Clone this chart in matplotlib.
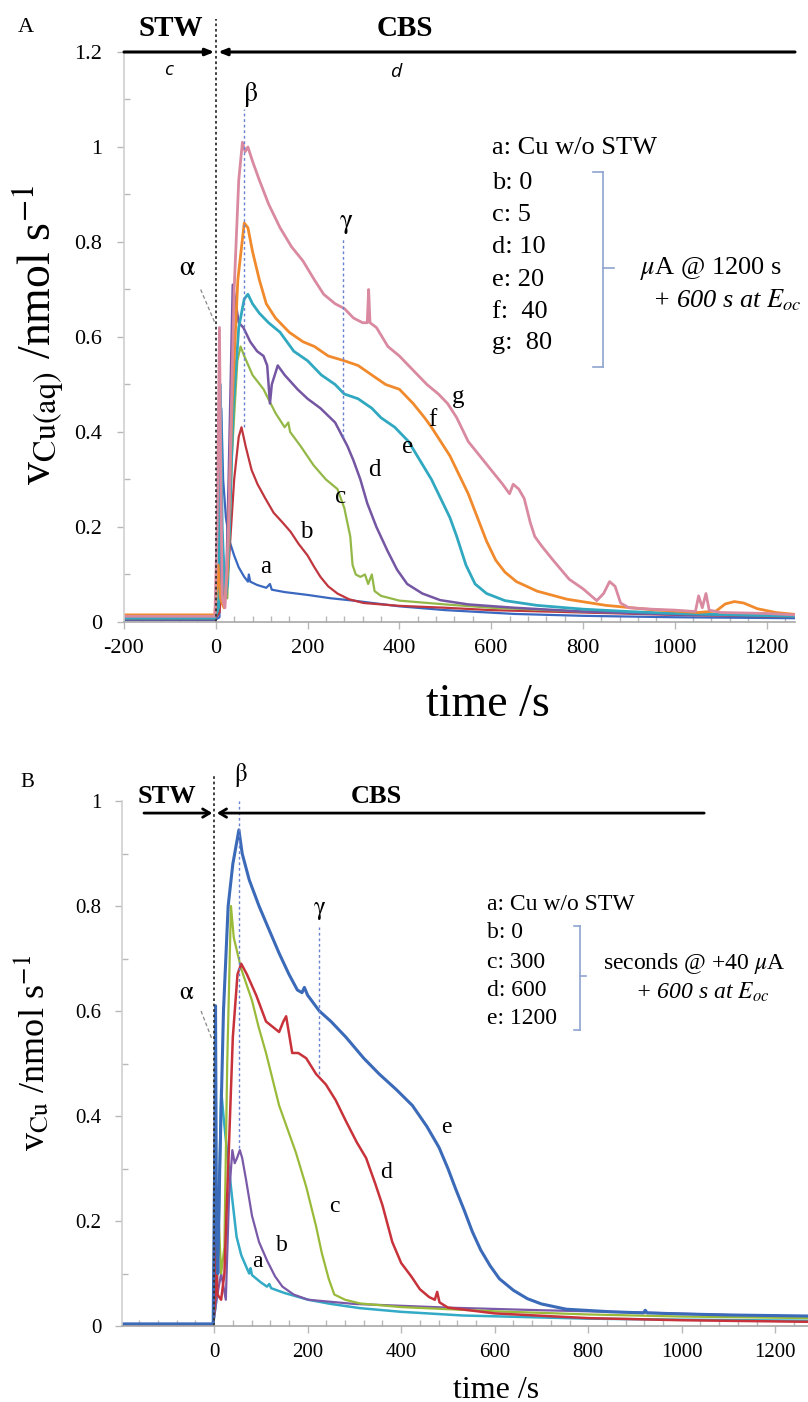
import matplotlib
matplotlib.use("Agg")
import matplotlib.pyplot as plt
import numpy as np

plt.rcParams['font.family'] = ['Liberation Serif', 'DejaVu Serif']
plt.rcParams['mathtext.fontset'] = 'stix'
plt.rcParams['axes.unicode_minus'] = False

W, H = 808, 1402

# ---------------- Panel A data (time /s, nmol s-1) ----------------
A_labels = ["a", "b", "c", "d", "e", "f", "g"]
A_colors = ["#3a68c0", "#c0363e", "#94b847", "#7456a3", "#30a8c0", "#f08a2c", "#d98aa0"]

A_a_t = [-200, -2, 8, 12, 16, 22, 30, 40, 50, 62, 70, 72, 75, 90, 110, 118, 122, 150, 200, 250, 300, 400, 500, 650, 800, 1000, 1262]
A_a_v = [0.004, 0.004, 0.01, 0.45, 0.3, 0.22, 0.17, 0.14, 0.115, 0.095, 0.085, 0.1, 0.085, 0.078, 0.072, 0.08, 0.068, 0.063, 0.057, 0.05, 0.045, 0.033, 0.025, 0.017, 0.013, 0.01, 0.008]

A_b_t = [-200, -2, 8, 14, 20, 28, 40, 50, 56, 65, 78, 91, 108, 126, 145, 163, 180, 200, 215, 228, 245, 265, 290, 322, 400, 500, 600, 800, 1000, 1262]
A_b_v = [0.006, 0.006, 0.02, 0.08, 0.05, 0.12, 0.3, 0.39, 0.41, 0.37, 0.32, 0.29, 0.26, 0.23, 0.21, 0.19, 0.165, 0.14, 0.115, 0.095, 0.075, 0.06, 0.048, 0.04, 0.034, 0.03, 0.025, 0.02, 0.015, 0.011]

A_c_t = [-200, -2, 10, 18, 25, 35, 47, 54, 62, 80, 104, 130, 150, 158, 162, 185, 213, 240, 265, 280, 293, 298, 305, 315, 325, 332, 340, 346, 360, 400, 500, 600, 800, 1000, 1262]
A_c_v = [0.008, 0.008, 0.05, 0.1, 0.05, 0.35, 0.55, 0.58, 0.56, 0.52, 0.49, 0.44, 0.41, 0.42, 0.4, 0.37, 0.33, 0.3, 0.28, 0.24, 0.18, 0.12, 0.1, 0.095, 0.1, 0.08, 0.1, 0.065, 0.055, 0.045, 0.037, 0.03, 0.022, 0.017, 0.013]

A_d_t = [-200, -2, 8, 15, 22, 28, 37, 42, 50, 60, 75, 90, 104, 112, 118, 122, 135, 150, 178, 200, 228, 260, 287, 300, 315, 330, 350, 374, 395, 417, 450, 489, 550, 650, 800, 1000, 1262]
A_d_v = [0.008, 0.008, 0.05, 0.15, 0.05, 0.3, 0.71, 0.68, 0.63, 0.62, 0.59, 0.57, 0.56, 0.54, 0.46, 0.5, 0.54, 0.52, 0.49, 0.47, 0.45, 0.42, 0.37, 0.34, 0.3, 0.25, 0.2, 0.15, 0.11, 0.08, 0.06, 0.046, 0.037, 0.03, 0.022, 0.016, 0.012]

A_e_t = [-200, -2, 6, 10, 14, 20, 26, 38, 50, 62, 70, 80, 95, 115, 140, 170, 200, 230, 260, 280, 310, 340, 360, 390, 420, 445, 470, 490, 510, 525, 545, 565, 590, 630, 700, 800, 900, 1000, 1262]
A_e_v = [0.008, 0.008, 0.03, 0.5, 0.2, 0.05, 0.08, 0.45, 0.62, 0.68, 0.69, 0.67, 0.65, 0.63, 0.61, 0.57, 0.55, 0.52, 0.5, 0.48, 0.47, 0.45, 0.43, 0.41, 0.38, 0.34, 0.3, 0.26, 0.22, 0.18, 0.12, 0.08, 0.06, 0.045, 0.035, 0.027, 0.022, 0.018, 0.012]

A_f_t = [-200, -2, 5, 10, 18, 25, 35, 48, 62, 70, 80, 95, 110, 130, 160, 190, 215, 245, 280, 310, 340, 370, 400, 430, 455, 470, 490, 510, 530, 550, 570, 590, 610, 630, 655, 700, 765, 850, 950, 1050, 1090, 1110, 1130, 1150, 1180, 1220, 1262]
A_f_v = [0.015, 0.015, 0.12, 0.05, 0.03, 0.1, 0.45, 0.72, 0.84, 0.83, 0.78, 0.72, 0.67, 0.64, 0.61, 0.59, 0.58, 0.56, 0.55, 0.54, 0.52, 0.5, 0.49, 0.46, 0.43, 0.41, 0.38, 0.35, 0.31, 0.27, 0.22, 0.17, 0.13, 0.105, 0.085, 0.065, 0.048, 0.035, 0.026, 0.02, 0.023, 0.038, 0.043, 0.04, 0.028, 0.02, 0.016]

A_g_t = [-200, -2, 3, 8, 11, 14, 20, 28, 40, 50, 58, 64, 70, 80, 95, 115, 140, 165, 190, 215, 235, 260, 280, 300, 320, 330, 333, 336, 350, 375, 400, 430, 460, 485, 505, 525, 550, 575, 600, 625, 640, 648, 660, 672, 685, 695, 710, 735, 770, 800, 830, 845, 858, 870, 882, 900, 950, 1000, 1045, 1052, 1060, 1068, 1075, 1100, 1200, 1262]
A_g_v = [0.012, 0.012, 0.2, 0.62, 0.3, 0.05, 0.03, 0.2, 0.7, 0.93, 1.01, 0.99, 1.0, 0.97, 0.93, 0.88, 0.83, 0.79, 0.76, 0.72, 0.69, 0.67, 0.66, 0.64, 0.63, 0.63, 0.7, 0.63, 0.62, 0.58, 0.56, 0.53, 0.5, 0.48, 0.46, 0.43, 0.38, 0.35, 0.32, 0.29, 0.27, 0.29, 0.28, 0.26, 0.21, 0.18, 0.16, 0.13, 0.09, 0.07, 0.045, 0.06, 0.085, 0.075, 0.04, 0.03, 0.027, 0.025, 0.022, 0.055, 0.03, 0.06, 0.025, 0.02, 0.018, 0.015]

A_series = [(A_a_t, A_a_v), (A_b_t, A_b_v), (A_c_t, A_c_v), (A_d_t, A_d_v),
            (A_e_t, A_e_v), (A_f_t, A_f_v), (A_g_t, A_g_v)]
A_widths = [1.6, 1.6, 1.6, 1.8, 2.0, 2.0, 2.0]
A_lab_t = [108, 197, 271, 345, 417, 471, 527]
A_lab_v = [0.116, 0.19, 0.263, 0.32, 0.368, 0.425, 0.474]
A_legend = ["a: Cu w/o STW", "b: 0", "c: 5", "d: 10", "e: 20", "f:  40", "g:  80"]
A_xticklabels = ["-200", "0", "200", "400", "600", "800", "1000", "1200"]
A_yticklabels = ["0", "0.2", "0.4", "0.6", "0.8", "1", "1.2"]

# ---------------- Panel B data ----------------
B_labels = ["a", "b", "c", "d", "e"]
B_colors = ["#33aac6", "#7a5aa8", "#9aba3a", "#c8323a", "#3a6ab8"]

B_a_t = [-200, -2, 5, 10, 15, 20, 28, 39, 48, 58, 70, 75, 78, 81, 100, 113, 118, 122, 150, 201, 250, 312, 400, 532, 800, 1000, 1270]
B_a_v = [0.003, 0.003, 0.05, 0.2, 0.45, 0.4, 0.33, 0.24, 0.17, 0.135, 0.11, 0.1, 0.11, 0.097, 0.083, 0.075, 0.08, 0.072, 0.063, 0.05, 0.042, 0.034, 0.027, 0.02, 0.014, 0.012, 0.01]

B_b_t = [-200, -2, 5, 15, 25, 32, 39, 44, 49, 55, 60, 68, 81, 96, 113, 130, 146, 170, 201, 300, 500, 700, 900, 1100, 1270]
B_b_v = [0.003, 0.003, 0.05, 0.1, 0.05, 0.25, 0.335, 0.31, 0.32, 0.335, 0.32, 0.28, 0.21, 0.16, 0.125, 0.095, 0.075, 0.06, 0.05, 0.042, 0.035, 0.03, 0.026, 0.021, 0.018]

B_c_t = [-200, -2, 5, 10, 15, 22, 28, 36, 42, 58, 81, 95, 111, 125, 139, 155, 175, 197, 218, 230, 245, 257, 280, 312, 400, 600, 800, 1000, 1270]
B_c_v = [0.003, 0.003, 0.1, 0.2, 0.1, 0.15, 0.5, 0.8, 0.74, 0.68, 0.62, 0.57, 0.52, 0.47, 0.42, 0.38, 0.33, 0.265, 0.19, 0.14, 0.09, 0.06, 0.05, 0.043, 0.036, 0.028, 0.022, 0.018, 0.015]

B_d_t = [-200, -2, 2, 4, 7, 15, 22, 30, 40, 50, 58, 70, 90, 111, 139, 148, 154, 167, 180, 197, 218, 239, 260, 282, 305, 325, 345, 360, 381, 400, 422, 440, 460, 472, 477, 482, 500, 600, 800, 1000, 1270]
B_d_v = [0.003, 0.003, 0.05, 0.17, 0.06, 0.05, 0.1, 0.3, 0.55, 0.67, 0.69, 0.67, 0.63, 0.58, 0.56, 0.58, 0.59, 0.52, 0.52, 0.51, 0.48, 0.46, 0.43, 0.39, 0.35, 0.32, 0.27, 0.23, 0.16, 0.12, 0.094, 0.07, 0.055, 0.05, 0.065, 0.045, 0.035, 0.024, 0.015, 0.011, 0.008]

B_e_t = [-200, -2, 1, 3, 5, 8, 12, 20, 30, 40, 53, 60, 75, 96, 115, 139, 160, 178, 188, 193, 200, 225, 250, 282, 320, 353, 390, 424, 455, 481, 500, 517, 535, 552, 570, 590, 610, 640, 670, 700, 753, 850, 918, 922, 926, 1000, 1100, 1270]
B_e_v = [0.004, 0.004, 0.3, 0.61, 0.2, 0.1, 0.3, 0.6, 0.8, 0.88, 0.945, 0.9, 0.85, 0.8, 0.76, 0.71, 0.67, 0.64, 0.635, 0.645, 0.63, 0.6, 0.58, 0.55, 0.51, 0.48, 0.45, 0.42, 0.38, 0.34, 0.3, 0.26, 0.22, 0.18, 0.145, 0.115, 0.09, 0.068, 0.052, 0.042, 0.032, 0.027, 0.025, 0.03, 0.025, 0.023, 0.021, 0.019]

B_series = [(B_a_t, B_a_v), (B_b_t, B_b_v), (B_c_t, B_c_v), (B_d_t, B_d_v), (B_e_t, B_e_v)]
B_widths = [1.8, 1.6, 1.6, 1.8, 2.2]
B_lab_t = [92, 145, 257, 368, 496]
B_lab_v = [0.122, 0.154, 0.227, 0.293, 0.379]
B_legend = ["a: Cu w/o STW", "b: 0", "c: 300", "d: 600", "e: 1200"]
B_xticklabels = ["0", "200", "400", "600", "800", "1000", "1200"]
B_yticklabels = ["0", "0.2", "0.4", "0.6", "0.8", "1"]

# event markers (time, top value, bottom value)
A_beta = (61, 1.08, 0.41)
A_gamma = (278, 0.81, 0.39)
B_beta = (53, 1.0, 0.34)
B_gamma = (225, 0.76, 0.48)


def fx(px):
    return px / W


def fy(py):
    return 1 - py / H


fig = plt.figure(figsize=(W / 100, H / 100), dpi=100)

axA = fig.add_axes([fx(124), fy(622), fx(795) - fx(124), fy(52) - fy(622)])
axB = fig.add_axes([fx(122), fy(1326), 1 - fx(122), fy(801) - fy(1326)])

spine_col = "#b8b8b8"
for ax in (axA, axB):
    for s in ("top", "right"):
        ax.spines[s].set_visible(False)
    ax.spines["left"].set_color("#d0d0d0")
    ax.spines["bottom"].set_color("#a8a8a8")
    ax.spines["left"].set_linewidth(1.2)
    ax.spines["bottom"].set_linewidth(1.2)
    ax.tick_params(which="major", direction="out", length=5, color=spine_col, width=1)
    ax.tick_params(which="minor", direction="in", length=4, color=spine_col, width=1)

# ---- Panel A ----
for (t, v), c, lw in zip(A_series, A_colors, A_widths):
    axA.plot(t, v, color=c, lw=lw, solid_joinstyle="round")
axA.set_xlim(-200, 1262)
axA.set_ylim(0, 1.2)
axA.set_xticks(np.arange(-200, 1201, 200))
axA.set_xticklabels(A_xticklabels)
axA.set_xticks(np.arange(-200, 1262, 40), minor=True)
axA.set_yticks(np.arange(0, 1.21, 0.2))
axA.set_yticks(np.arange(0.1, 1.2, 0.2), minor=True)
axA.set_yticklabels(A_yticklabels)
axA.tick_params(axis="y", which="major", labelsize=16, pad=11)
axA.tick_params(axis="x", which="major", labelsize=16, pad=7)

for lab, lt, lv in zip(A_labels, A_lab_t, A_lab_v):
    axA.text(lt, lv, lab, fontsize=18, ha="center", va="center")

axA.plot([0, 0], [0, 1.27], color="#333333", lw=1.3, ls=(0, (1.5, 1.5)), clip_on=False)
for (tt, top, bot) in (A_beta, A_gamma):
    axA.plot([tt, tt], [bot, top], color="#6a80d0", lw=1.0, ls=(0, (2, 2)), clip_on=False)
axA.plot([-33, -2], [0.70, 0.63], color="#888888", lw=0.9, ls=(0, (3, 2)))
axA.text(-63, 0.745, r"$\mathrm{\alpha}$", fontsize=20, ha="center", va="center")
axA.text(76, 1.11, r"$\mathrm{\beta}$", fontsize=20, ha="center", va="center", clip_on=False)
axA.text(283, 0.84, r"$\mathrm{\gamma}$", fontsize=20, ha="center", va="center")

axA.annotate("", xy=(-3, 1.2), xytext=(-200, 1.2), annotation_clip=False,
             arrowprops=dict(arrowstyle="-|>,head_length=0.5,head_width=0.2", lw=2.2, color="black",
                             shrinkA=0, shrinkB=0))
axA.annotate("", xy=(5, 1.2), xytext=(1262, 1.2), annotation_clip=False,
             arrowprops=dict(arrowstyle="-|>,head_length=0.5,head_width=0.2", lw=2.2, color="black",
                             shrinkA=0, shrinkB=0))
axA.text(-98, 1.25, "STW", fontsize=21, fontweight="bold", ha="center", va="center", clip_on=False)
axA.text(413, 1.25, "CBS", fontsize=21, fontweight="bold", ha="center", va="center", clip_on=False)
axA.text(-102, 1.162, "c", fontsize=14, fontstyle="italic", family="Open Sans", ha="center", va="center")
axA.text(391, 1.158, "d", fontsize=14, fontstyle="italic", family="Open Sans", ha="center", va="center")

fig.text(fx(18), fy(28), "A", fontsize=16, ha="left", va="center")
fig.text(fx(38), fy(335), r"v$_{\mathrm{Cu(aq)}}$ /nmol s$^{\mathrm{-1}}$", fontsize=33,
         rotation=90, ha="center", va="center")
fig.text(fx(488), fy(705), "time /s", fontsize=33, ha="center", va="center")

A_leg_y = [148, 183, 215, 247, 280, 312, 343]
for txt, yy in zip(A_legend, A_leg_y):
    fig.text(fx(492), fy(yy), txt, fontsize=19, ha="left", va="center")
br = "#8ea4d0"
fig.add_artist(plt.Line2D([fx(603), fx(603)], [fy(172), fy(367)], color=br, lw=1.2))
fig.add_artist(plt.Line2D([fx(593), fx(603)], [fy(172), fy(172)], color=br, lw=1.2))
fig.add_artist(plt.Line2D([fx(593), fx(603)], [fy(367), fy(367)], color=br, lw=1.2))
fig.add_artist(plt.Line2D([fx(603), fx(614)], [fy(268), fy(268)], color=br, lw=1.2))
fig.text(fx(640), fy(268), r"$\mu$A @ 1200 s", fontsize=19, ha="left", va="center")
fig.text(fx(652), fy(300), r"+ 600 s at $E_{oc}$", fontsize=19, fontstyle="italic", ha="left", va="center")

# ---- Panel B ----
for (t, v), c, lw in zip(B_series, B_colors, B_widths):
    axB.plot(t, v, color=c, lw=lw, solid_joinstyle="round")
axB.set_xlim(-197, 1270)
axB.set_ylim(0, 1.0)
axB.set_xticks(np.arange(0, 1201, 200))
axB.set_xticklabels(B_xticklabels)
axB.set_xticks(np.arange(-160, 1270, 40), minor=True)
axB.set_yticks(np.arange(0, 1.01, 0.2))
axB.set_yticks(np.arange(0.1, 1.0, 0.2), minor=True)
axB.set_yticklabels(B_yticklabels)
axB.tick_params(axis="y", which="major", labelsize=15, pad=10)
axB.tick_params(axis="x", which="major", labelsize=15, pad=7)

for lab, lt, lv in zip(B_labels, B_lab_t, B_lab_v):
    axB.text(lt, lv, lab, fontsize=17, ha="center", va="center")

axB.plot([0, 0], [0, 1.05], color="#333333", lw=1.3, ls=(0, (1.5, 1.5)), clip_on=False)
for (tt, top, bot) in (B_beta, B_gamma):
    axB.plot([tt, tt], [bot, top], color="#6a80d0", lw=1.0, ls=(0, (2, 2)), clip_on=False)
axB.plot([-28, -4], [0.60, 0.545], color="#888888", lw=0.9, ls=(0, (3, 2)))
axB.text(-58, 0.634, r"$\mathrm{\alpha}$", fontsize=18, ha="center", va="center")
axB.text(58, 1.05, r"$\mathrm{\beta}$", fontsize=18, ha="center", va="center", clip_on=False)
axB.text(225, 0.79, r"$\mathrm{\gamma}$", fontsize=18, ha="center", va="center")

axB.annotate("", xy=(-4, 0.977), xytext=(-150, 0.977), annotation_clip=False,
             arrowprops=dict(arrowstyle="->,head_length=0.5,head_width=0.3", lw=2.0, color="black",
                             shrinkA=0, shrinkB=0))
axB.annotate("", xy=(6, 0.977), xytext=(1048, 0.977), annotation_clip=False,
             arrowprops=dict(arrowstyle="->,head_length=0.5,head_width=0.3", lw=2.0, color="black",
                             shrinkA=0, shrinkB=0))
axB.text(-100, 1.008, "STW", fontsize=19, fontweight="bold", ha="center", va="center", clip_on=False)
axB.text(347, 1.008, "CBS", fontsize=19, fontweight="bold", ha="center", va="center", clip_on=False)

fig.text(fx(20), fy(783), "B", fontsize=15, ha="left", va="center")
fig.text(fx(33), fy(1053), r"v$_{\mathrm{Cu}}$ /nmol s$^{\mathrm{-1}}$", fontsize=26,
         rotation=90, ha="center", va="center")
fig.text(fx(496), fy(1390), "time /s", fontsize=23, ha="center", va="center")

B_leg_y = [905, 933, 962, 990, 1018]
for txt, yy in zip(B_legend, B_leg_y):
    fig.text(fx(487), fy(yy), txt, fontsize=17, ha="left", va="center")
fig.add_artist(plt.Line2D([fx(580), fx(580)], [fy(926), fy(1030)], color=br, lw=1.2))
fig.add_artist(plt.Line2D([fx(574), fx(580)], [fy(926), fy(926)], color=br, lw=1.2))
fig.add_artist(plt.Line2D([fx(574), fx(580)], [fy(1030), fy(1030)], color=br, lw=1.2))
fig.add_artist(plt.Line2D([fx(580), fx(586)], [fy(976), fy(976)], color=br, lw=1.2))
fig.text(fx(603), fy(963), r"seconds @ +40 $\mu$A", fontsize=17, ha="left", va="center")
fig.text(fx(635), fy(992), r"+ 600 s at $E_{oc}$", fontsize=17, fontstyle="italic", ha="left", va="center")

fig.savefig("out.png", dpi=100)
